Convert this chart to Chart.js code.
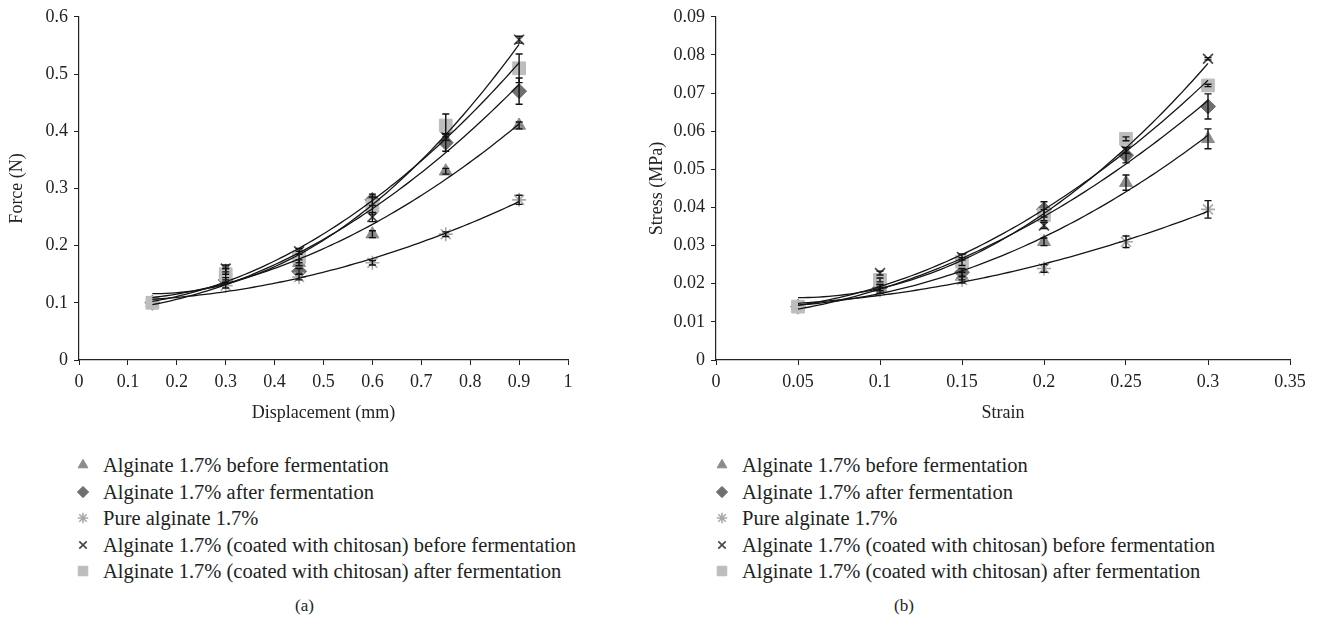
<!DOCTYPE html>
<html>
<head>
<meta charset="utf-8">
<script src="https://cdn.jsdelivr.net/npm/chart.js@4.4.1/dist/chart.umd.min.js"></script>
<style>
  body { margin: 0; background: #fff; }
  #wrap { position: relative; width: 1321px; height: 629px; font-family: "Liberation Serif", serif; color: #222; }
  canvas { position: absolute; top: 0; }
  .legend { position: absolute; top: 452px; font-size: 20.5px; }
  .legend div { position: relative; height: 26.5px; line-height: 26.5px; white-space: nowrap; }
  .legend canvas { position: absolute; top: 3px; }
  .cap { position: absolute; top: 596px; font-size: 17px; }
</style>
</head>
<body>
<div id="wrap">
  <canvas id="chartA" width="600" height="430" style="left:0px"></canvas>
  <canvas id="chartB" width="681" height="430" style="left:640px"></canvas>
  <div class="legend" id="legA" style="left:73px"></div>
  <div class="legend" id="legB" style="left:712px"></div>
  <div class="cap" style="left:295px">(a)</div>
  <div class="cap" style="left:894px">(b)</div>
</div>
<script>
// series names, shared by both panels
const seriesNames = [
    "Alginate 1.7% before fermentation",
    "Alginate 1.7% after fermentation",
    "Pure alginate 1.7%",
    "Alginate 1.7% (coated with chitosan) before fermentation",
    "Alginate 1.7% (coated with chitosan) after fermentation"
];

// panel (a): force vs displacement
const displacement = [0.15, 0.3, 0.45, 0.6, 0.75, 0.9];
const forceBefore = [0.1, 0.155, 0.17, 0.22, 0.33, 0.41];
const forceAfter = [0.1, 0.14, 0.155, 0.28, 0.38, 0.47];
const forcePure = [0.1, 0.13, 0.145, 0.17, 0.22, 0.28];
const forceCoatedBefore = [0.1, 0.16, 0.19, 0.25, 0.39, 0.56];
const forceCoatedAfter = [0.1, 0.15, 0.18, 0.27, 0.41, 0.51];
const forceBeforeErr = [0, 0.005, 0.005, 0.006, 0.005, 0.006];
const forceAfterErr = [0, 0.004, 0.005, 0.01, 0.015, 0.023];
const forcePureErr = [0, 0.004, 0.005, 0.004, 0.004, 0.008];
const forceCoatedBeforeErr = [0, 0.006, 0.005, 0.008, 0.006, 0.006];
const forceCoatedAfterErr = [0, 0.01, 0.01, 0.015, 0.02, 0.025];

// panel (b): stress vs strain
const strain = [0.05, 0.1, 0.15, 0.2, 0.25, 0.3];
const stressBefore = [0.014, 0.019, 0.022, 0.031, 0.0465, 0.058];
const stressAfter = [0.014, 0.019, 0.023, 0.0395, 0.0537, 0.0665];
const stressPure = [0.014, 0.0183, 0.021, 0.024, 0.031, 0.0395];
const stressCoatedBefore = [0.014, 0.0228, 0.027, 0.0353, 0.055, 0.079];
const stressCoatedAfter = [0.014, 0.021, 0.0258, 0.038, 0.058, 0.072];
const stressBeforeErr = [0, 0.0008, 0.001, 0.001, 0.002, 0.0026];
const stressAfterErr = [0, 0.0008, 0.001, 0.002, 0.002, 0.0033];
const stressPureErr = [0, 0.0008, 0.0008, 0.001, 0.0015, 0.0023];
const stressCoatedBeforeErr = [0, 0.0005, 0.0008, 0.0008, 0.0008, 0.0003];
const stressCoatedAfterErr = [0, 0.0005, 0.001, 0.0015, 0.0005, 0.0003];

// marker look per series
const markers = [
    { style: "triangle", color: "#8c8c8c", radius: 7.5, width: 1 },
    { style: "rectRot", color: "#6f6f6f", radius: 7.5, width: 1 },
    { style: "star", color: "#a9a9a9", radius: 7, width: 1.6 },
    { style: "crossRot", color: "#4a4a4a", radius: 7, width: 1.7 },
    { style: "rect", color: "#bdbdbd", radius: 9, width: 1 }
];
const drawOrder = [4, 3, 2, 1, 0];

// least squares quadratic (Excel polynomial trendline, order 2)
function quadFit(xs, ys) {
    let s = [0, 0, 0, 0, 0], t = [0, 0, 0];
    xs.forEach((x, i) => {
        for (let k = 0; k < 5; k++) s[k] += Math.pow(x, k);
        for (let k = 0; k < 3; k++) t[k] += ys[i] * Math.pow(x, k);
    });
    const m = [[s[0], s[1], s[2]], [s[1], s[2], s[3]], [s[2], s[3], s[4]]];
    const det = a => a[0][0] * (a[1][1] * a[2][2] - a[1][2] * a[2][1])
        - a[0][1] * (a[1][0] * a[2][2] - a[1][2] * a[2][0])
        + a[0][2] * (a[1][0] * a[2][1] - a[1][1] * a[2][0]);
    const d = det(m);
    return [0, 1, 2].map(c => det(m.map((row, r) => row.map((v, j) => j === c ? t[r] : v))) / d);
}

const fitsAndErrors = {
    id: "fitsAndErrors",
    afterDatasetsDraw(chart) {
        const { ctx } = chart;
        const xs = chart.scales.x, ys = chart.scales.y;
        ctx.save();
        chart.data.datasets.forEach(ds => {
            const px = ds.data.map(p => p.x), py = ds.data.map(p => p.y);
            const [a, b, c] = quadFit(px, py);
            const x0 = px[0], x1 = px[px.length - 1];
            ctx.beginPath();
            for (let i = 0; i <= 80; i++) {
                const xv = x0 + (x1 - x0) * i / 80;
                const X = xs.getPixelForValue(xv), Y = ys.getPixelForValue(a + b * xv + c * xv * xv);
                if (i === 0) ctx.moveTo(X, Y); else ctx.lineTo(X, Y);
            }
            ctx.strokeStyle = "#151515";
            ctx.lineWidth = 1.3;
            ctx.stroke();
        });
        // error bars with caps
        chart.data.datasets.forEach(ds => {
            ds.data.forEach((p, i) => {
                const e = ds.err[i];
                if (!e) return;
                const X = xs.getPixelForValue(p.x);
                const top = ys.getPixelForValue(p.y + e), bot = ys.getPixelForValue(p.y - e);
                ctx.beginPath();
                ctx.moveTo(X, top); ctx.lineTo(X, bot);
                ctx.moveTo(X - 3.5, top); ctx.lineTo(X + 3.5, top);
                ctx.moveTo(X - 3.5, bot); ctx.lineTo(X + 3.5, bot);
                ctx.strokeStyle = "#111";
                ctx.lineWidth = 1.4;
                ctx.stroke();
            });
        });
        ctx.restore();
    }
};

function makeDatasets(xVals, series, errs) {
    return series.map((vals, i) => ({
        label: seriesNames[i],
        data: vals.map((v, j) => ({ x: xVals[j], y: v })),
        err: errs[i],
        pointStyle: markers[i].style,
        pointRadius: markers[i].radius,
        pointBackgroundColor: markers[i].color,
        pointBorderColor: markers[i].color,
        pointBorderWidth: markers[i].width,
        showLine: false,
        order: drawOrder[i],
        clip: false
    }));
}

function axis(min, max, step, title, isX, size) {
    return {
        type: "linear",
        min: min,
        max: max,
        afterFit: s => { if (isX) s.height = size; else s.width = size; },
        ticks: {
            stepSize: step,
            color: "#222",
            padding: 6,
            font: { family: "Liberation Serif", size: 18 },
            callback: v => String(parseFloat(v.toFixed(4)))
        },
        grid: { display: true, drawOnChartArea: false, drawTicks: true, tickLength: 5, color: "#222" },
        border: { display: true, color: "#222", width: 1.2 },
        title: {
            display: true,
            text: title,
            color: "#222",
            font: { family: "Liberation Serif", size: 18 },
            padding: isX ? { top: 0, bottom: 6 } : { top: 6, bottom: 0 }
        }
    };
}

function makeChart(id, xVals, series, errs, xAxis, yAxis, padRight) {
    new Chart(document.getElementById(id), {
        type: "scatter",
        data: { datasets: makeDatasets(xVals, series, errs) },
        options: {
            responsive: false,
            animation: false,
            layout: { padding: { top: 16, right: padRight, bottom: 0, left: 0 } },
            plugins: { legend: { display: false }, tooltip: { enabled: false } },
            scales: { x: xAxis, y: yAxis }
        },
        plugins: [fitsAndErrors]
    });
}

makeChart("chartA", displacement,
    [forceBefore, forceAfter, forcePure, forceCoatedBefore, forceCoatedAfter],
    [forceBeforeErr, forceAfterErr, forcePureErr, forceCoatedBeforeErr, forceCoatedAfterErr],
    axis(0, 1, 0.1, "Displacement (mm)", true, 70),
    axis(0, 0.6, 0.1, "Force (N)", false, 79), 32);

makeChart("chartB", strain,
    [stressBefore, stressAfter, stressPure, stressCoatedBefore, stressCoatedAfter],
    [stressBeforeErr, stressAfterErr, stressPureErr, stressCoatedBeforeErr, stressCoatedAfterErr],
    axis(0, 0.35, 0.05, "Strain", true, 70),
    axis(0, 0.09, 0.01, "Stress (MPa)", false, 76), 31);

// legends drawn with the same point helper as the chart
function buildLegend(id) {
    const box = document.getElementById(id);
    seriesNames.forEach((name, i) => {
        const row = document.createElement("div");
        const c = document.createElement("canvas");
        c.width = 20; c.height = 20;
        c.style.left = "0px";
        const g = c.getContext("2d");
        g.fillStyle = markers[i].color;
        g.strokeStyle = markers[i].color;
        g.lineWidth = markers[i].width;
        Chart.helpers.drawPoint(g, { pointStyle: markers[i].style, radius: markers[i].radius * 0.75, rotation: 0, borderWidth: markers[i].width }, 10, 10);
        row.appendChild(c);
        const span = document.createElement("span");
        span.style.marginLeft = "30px";
        span.textContent = name;
        row.appendChild(span);
        box.appendChild(row);
    });
}
buildLegend("legA");
buildLegend("legB");
</script>
</body>
</html>
